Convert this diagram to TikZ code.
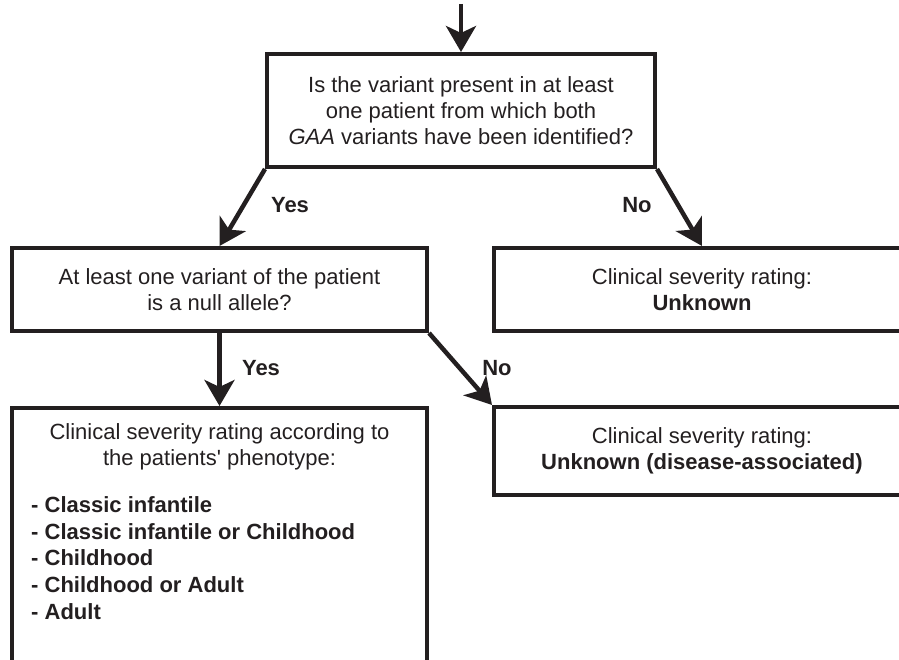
\documentclass[tikz,border=0pt]{standalone}
\usepackage{fontspec}
\setmainfont{Liberation Sans}
\usetikzlibrary{arrows.meta}
\definecolor{ink}{HTML}{231F20}
\begin{document}
\begin{tikzpicture}[x=1pt,y=-1pt,
  every node/.style={text=ink,font=\fontsize{22}{26}\selectfont},
  box/.style={draw=ink,line width=4pt,rectangle,inner sep=0pt,align=center},
  conn/.style={draw=ink,line width=4.5pt,-{Stealth[length=26pt,width=30pt,inset=7pt]}},
  lab/.style={font=\fontsize{22}{26}\selectfont\bfseries}]
\useasboundingbox (0,0) rectangle (899,660);
\clip (0,0) rectangle (899,660);
\node[box,minimum width=388pt,minimum height=113pt] (q1) at (461,110.5)
  {Is the variant present in at least\\one patient from which both\\\textit{GAA} variants have been identified?};
\node[box,minimum width=415pt,minimum height=83pt] (q2) at (219.5,289.5)
  {At least one variant of the patient\\is a null allele?};
\node[box,minimum width=416pt,minimum height=83pt] (r1) at (702,289.5)
  {Clinical severity rating:\\\textbf{Unknown}};
\node[box,minimum width=416pt,minimum height=88pt] (r3) at (702,451)
  {Clinical severity rating:\\\textbf{Unknown (disease-associated)}};
\node[box,minimum width=415pt,minimum height=300pt] (r2) at (219.5,558) {};
\node[align=center,inner sep=0pt] (r2head) at (219.5,447)
  {Clinical severity rating according to\\the patients\textquotesingle\ phenotype:};
\node[align=left,anchor=north west,inner sep=0pt,font=\fontsize{22}{26.9}\selectfont\bfseries] (r2list) at (31,496)
  {- Classic infantile\\- Classic infantile or Childhood\\- Childhood\\- Childhood or Adult\\- Adult};
\coordinate (start) at (461,4);
\draw[conn] (start) -- (q1.north);
\draw[conn] (q1.south west) -- (q2.north);
\draw[conn] (q1.south east) -- (r1.north);
\draw[conn] (q2.south) -- (r2.north);
\draw[conn] (q2.south east) -- (r3.north west);
\node[lab] (y1) at (290,205) {Yes};
\node[lab] (n1) at (637,205) {No};
\node[lab] (y2) at (261,368) {Yes};
\node[lab] (n2) at (497,368) {No};
\end{tikzpicture}
\end{document}
